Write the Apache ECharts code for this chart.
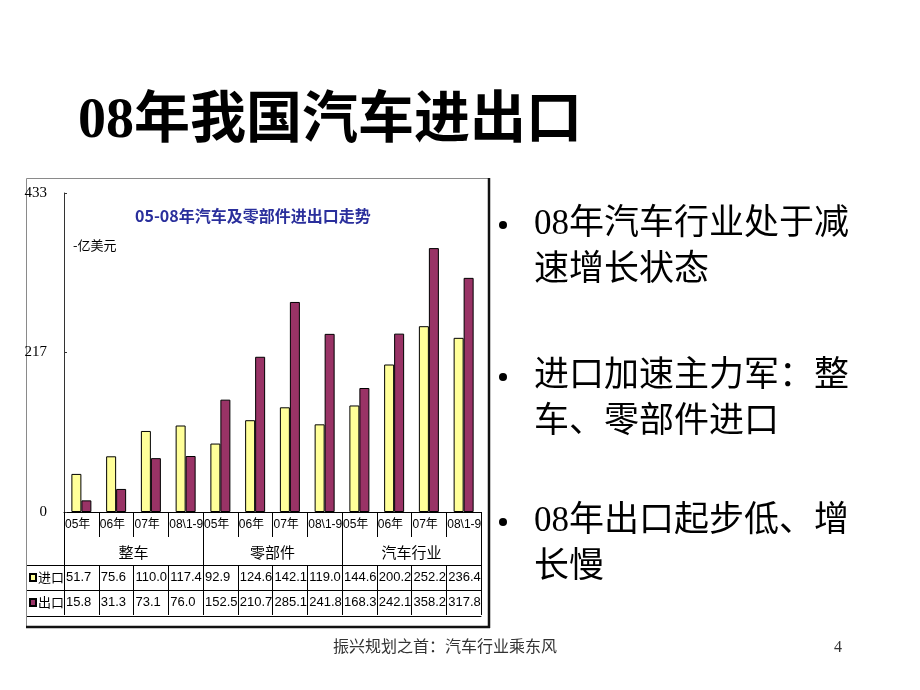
<!DOCTYPE html>
<html><head><meta charset="utf-8">
<script src="https://cdn.jsdelivr.net/npm/echarts@6/dist/echarts.min.js"></script>
<style>html,body{margin:0;padding:0;background:#fff}#c{width:920px;height:690px}</style>
</head><body><div id="c"></div>
<script>
const categories = ['05年','06年','07年','08\\1-9','05年','06年','07年','08\\1-9','05年','06年','07年','08\\1-9'];
const groups = ['整车','零部件','汽车行业'];
const seriesNames = ['进口','出口'];
const importVals = [51.7,75.6,110.0,117.4,92.9,124.6,142.1,119.0,144.6,200.2,252.2,236.4];
const exportVals = [15.8,31.3,73.1,76.0,152.5,210.7,285.1,241.8,168.3,242.1,358.2,317.8];
const yTicks = [0,217,433];
const bullets = [['08年汽车行业处于减','速增长状态'],['进口加速主力军：整','车、零部件进口'],['08年出口起步低、增','长慢']];

const narrow = '"Liberation Sans","Noto Sans CJK SC",sans-serif';
const serif = '"Liberation Serif","Noto Sans CJK SC",serif';
const slotData = categories.concat(['']);
const chart = echarts.init(document.getElementById('c'), null, {renderer:'canvas'});

function rowAxis(offset, vals){
  return {type:'category', data:slotData, boundaryGap:false, position:'bottom', offset:offset,
    axisLine:{show:true, onZero:false, lineStyle:{color:'#000', width:1}},
    axisTick:{show:!!vals, interval:0, length:25, lineStyle:{color:'#000'}},
    axisLabel:{show:!!vals, interval:0, align:'left', margin:6, padding:[0,0,0,2], fontSize:13, fontFamily:narrow, color:'#000',
      formatter:function(v,i){ return vals && vals[i]!==undefined ? vals[i].toFixed(1) : ''; }},
    splitLine:{show:false}};
}

const graphics = [
  {type:'rect', shape:{x:26.5,y:178.5,width:463,height:448}, style:{fill:'none', stroke:'#8a8a8a', lineWidth:1}, silent:true},
  {type:'line', shape:{x1:489,y1:178,x2:489,y2:628}, style:{stroke:'#111', lineWidth:2.5}, silent:true},
  {type:'line', shape:{x1:26,y1:627,x2:490,y2:627}, style:{stroke:'#111', lineWidth:2.5}, silent:true},
  {type:'line', shape:{x1:27,y1:565.5,x2:64,y2:565.5}, style:{stroke:'#000', lineWidth:1}, silent:true},
  {type:'line', shape:{x1:27,y1:590.5,x2:64,y2:590.5}, style:{stroke:'#000', lineWidth:1}, silent:true},
  {type:'line', shape:{x1:27,y1:616.5,x2:64,y2:616.5}, style:{stroke:'#000', lineWidth:1}, silent:true},
  {type:'text', x:135, y:216, style:{text:'05-08年汽车及零部件进出口走势', font:'bold 16px "Noto Sans CJK SC",sans-serif', fill:'#2a2f9c', verticalAlign:'middle', align:'left'}},
  {type:'text', x:73, y:245, style:{text:'-亿美元', font:'13px "Noto Sans CJK SC",sans-serif', fill:'#000', verticalAlign:'middle', align:'left'}},
  {type:'text', x:78, y:123, style:{text:'08年我国汽车进出口', font:'bold 56px '+serif, fill:'#000', verticalAlign:'middle', align:'left'}},
  {type:'text', x:333, y:648, style:{text:'振兴规划之首：汽车行业乘东风', font:'16px '+serif, fill:'#333', verticalAlign:'middle', align:'left'}},
  {type:'text', x:838, y:648, style:{text:'4', font:'16px '+serif, fill:'#333', verticalAlign:'middle', align:'center'}}
];
const bulletY = [225, 377, 522];
bullets.forEach(function(lines, k){
  graphics.push({type:'circle', shape:{cx:503, cy:bulletY[k], r:4}, style:{fill:'#000'}, silent:true});
  lines.forEach(function(t, j){
    graphics.push({type:'text', x:534, y:bulletY[k]+j*46, style:{text:t, font:'35px '+serif, fill:'#000', verticalAlign:'middle', align:'left'}});
  });
});

chart.setOption({
  animation:false,
  backgroundColor:'#fff',
  grid:{left:64, right:439, top:193, bottom:178, containLabel:false},
  legend:{orient:'vertical', left:29, top:571, itemWidth:6, itemHeight:7, itemGap:12, padding:0, icon:'rect', selectedMode:false,
    data:seriesNames, textStyle:{fontSize:13, color:'#000', fontFamily:'"Noto Sans CJK SC",sans-serif', padding:[0,0,0,-3]}},
  xAxis:[
    {type:'category', data:categories, boundaryGap:true, position:'bottom',
      axisLine:{show:true, lineStyle:{color:'#000', width:1}},
      axisTick:{show:true, interval:0, length:25, lineStyle:{color:'#000'}},
      axisLabel:{show:false}, splitLine:{show:false}},
    {type:'category', data:slotData, boundaryGap:false, position:'bottom',
      axisLine:{show:false}, axisTick:{show:false},
      axisLabel:{interval:0, align:'left', margin:7, padding:[0,0,0,1], fontSize:12, fontFamily:narrow, color:'#000'}},
    {type:'category', data:groups, boundaryGap:true, position:'bottom',
      axisLine:{show:false}, axisTick:{show:true, interval:0, length:53, lineStyle:{color:'#000'}},
      axisLabel:{interval:0, margin:33, fontSize:15, color:'#000', fontFamily:'"Noto Sans CJK SC",sans-serif'}},
    rowAxis(53, importVals),
    rowAxis(78, exportVals),
    rowAxis(104, null)
  ],
  yAxis:{type:'value', min:0, max:433,
    axisLine:{show:true, lineStyle:{color:'#333', width:1}},
    axisTick:{show:true, inside:true, length:3, customValues:yTicks, lineStyle:{color:'#333'}},
    axisLabel:{customValues:yTicks, margin:17, fontSize:15, fontFamily:'"Liberation Serif",serif', color:'#000'},
    splitLine:{show:false}},
  series:[
    {name:seriesNames[0], type:'bar', xAxisIndex:0, data:importVals, barWidth:10, barGap:'0%',
      itemStyle:{color:'#ffff99', borderColor:'#000', borderWidth:1}},
    {name:seriesNames[1], type:'bar', xAxisIndex:0, data:exportVals, barWidth:10, barGap:'0%',
      itemStyle:{color:'#993366', borderColor:'#000', borderWidth:1}}
  ],
  graphic:graphics
});
</script></body></html>
